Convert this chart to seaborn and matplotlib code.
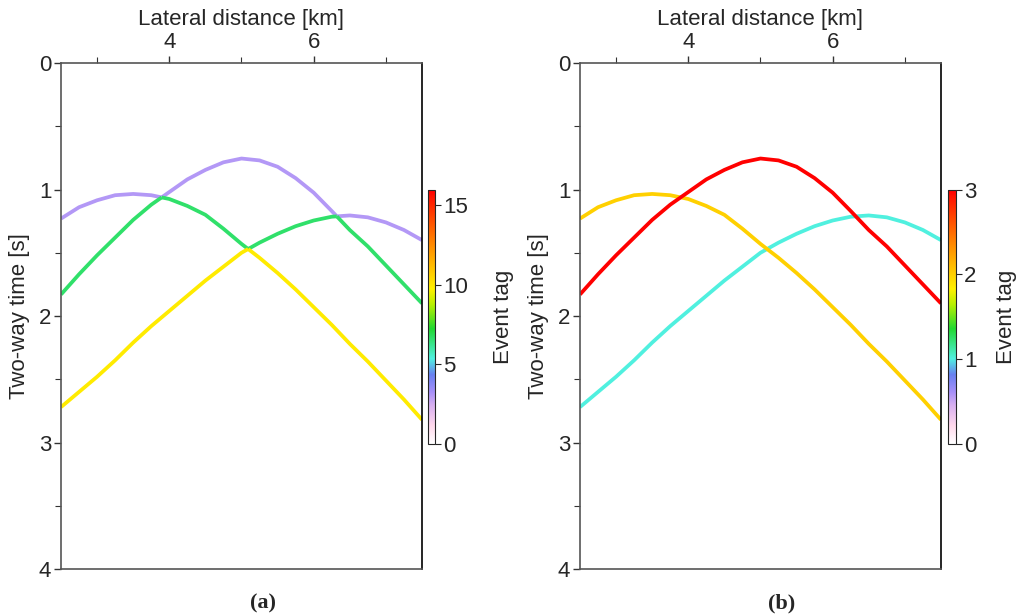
import numpy as np
import pandas as pd
import matplotlib
matplotlib.use("Agg")
import matplotlib.pyplot as plt
import seaborn as sns
from matplotlib.colors import LinearSegmentedColormap, Normalize
from matplotlib.cm import ScalarMappable

# ---------------- data ----------------
distance_km = [2.50, 2.75, 3.00, 3.25, 3.50, 3.75, 4.00, 4.25, 4.50, 4.75, 5.00,
               5.25, 5.50, 5.75, 6.00, 6.25, 6.50, 6.75, 7.00, 7.25, 7.50]
# event tag 1 (cyan), apex near 6.5 km
event1_time = [2.72, 2.60, 2.48, 2.35, 2.21, 2.08, 1.96, 1.84, 1.72, 1.61, 1.50,
               1.42, 1.35, 1.29, 1.245, 1.215, 1.205, 1.22, 1.26, 1.32, 1.40]
# event tag 2 (yellow), apex near 3.4 km
event2_time = [1.23, 1.14, 1.085, 1.045, 1.035, 1.045, 1.075, 1.13, 1.20, 1.31, 1.43,
               1.54, 1.66, 1.79, 1.93, 2.07, 2.22, 2.36, 2.51, 2.66, 2.82]
# event tag 3 (red), apex near 5.0 km
event3_time = [1.83, 1.67, 1.52, 1.38, 1.24, 1.12, 1.02, 0.92, 0.845, 0.785, 0.755,
               0.77, 0.82, 0.91, 1.025, 1.17, 1.32, 1.45, 1.60, 1.75, 1.90]
event_tags = [1, 2, 3]
# panel (a): tag by arrival order (first, second, third arrival)
arrival_tags = [3.0, 6.6, 9.9]

tag_max_a = 16
tag_max_b = 3
cbar_ticks_a = [0, 5, 10, 15]
cbar_ticks_b = [0, 1, 2, 3]
x_major = [4, 6]
x_minor = [3, 5, 7]
y_major = [0, 1, 2, 3, 4]
y_minor = [0.5, 1.5, 2.5, 3.5]
captions = ["(a)", "(b)"]

# ---------------- style ----------------
sns.set_theme(style="ticks")
plt.rcParams["font.family"] = ["Liberation Sans", "DejaVu Sans"]

cmap = LinearSegmentedColormap.from_list("event_rainbow", [
    (0.00, "#ffffff"), (0.07, "#ffd8ec"), (0.15, "#d8b0f0"), (0.20, "#a890f8"),
    (0.27, "#6880f0"), (0.333, "#50f0e0"), (0.45, "#20d830"), (0.55, "#b8f000"),
    (0.61, "#fff000"), (0.667, "#ffd000"), (0.80, "#ff8000"), (1.00, "#ff0000")])

x = np.asarray(distance_km)
T = np.vstack([event1_time, event2_time, event3_time])


def build_pieces(values_for_piece):
    """Split every event line at crossings; values_for_piece(event, rank)."""
    rows = []
    pid = 0
    n = len(x)
    for e in range(T.shape[0]):
        bx = list(x)
        for j in range(n - 1):
            for o in range(T.shape[0]):
                if o == e:
                    continue
                d0 = T[e, j] - T[o, j]
                d1 = T[e, j + 1] - T[o, j + 1]
                if d0 * d1 < 0:
                    bx.append(x[j] + (x[j + 1] - x[j]) * d0 / (d0 - d1))
        bx = np.array(sorted(bx))
        bt = np.interp(bx, x, T[e])
        ranks = []
        for k in range(len(bx) - 1):
            xm = 0.5 * (bx[k] + bx[k + 1])
            tm = [np.interp(xm, x, T[o]) for o in range(T.shape[0])]
            ranks.append(sum(1 for o in range(T.shape[0]) if o != e and tm[o] < tm[e]))
        start = 0
        for k in range(1, len(ranks) + 1):
            if k == len(ranks) or ranks[k] != ranks[start]:
                val = values_for_piece(e, ranks[start])
                for m in range(start, k + 1):
                    rows.append(dict(x=bx[m], t=bt[m], piece=pid, tag=val))
                pid += 1
                start = k
    return pd.DataFrame(rows)


df_a = build_pieces(lambda e, r: arrival_tags[r])
df_b = pd.DataFrame([dict(x=xi, t=ti, piece=e, tag=event_tags[e])
                     for e in range(T.shape[0]) for xi, ti in zip(x, T[e])])

fig = plt.figure(figsize=(10.22, 6.16), dpi=100)
ax_a = fig.add_axes([0.0597, 0.0763, 0.3532, 0.8214])
ax_b = fig.add_axes([0.5675, 0.0763, 0.3532, 0.8214])

panels = [(ax_a, df_a, tag_max_a, [0.4188, 0.2800, 0.0070, 0.4123], cbar_ticks_a, captions[0], 18, 0.2573),
          (ax_b, df_b, tag_max_b, [0.9276, 0.2800, 0.0078, 0.4123], cbar_ticks_b, captions[1], 14, 0.7652)]

for ax, df, vmax, crect, cticks, cap, lpad, capx in panels:
    norm = Normalize(0, vmax)
    sns.lineplot(data=df, x="x", y="t", units="piece", estimator=None, hue="tag",
                 palette=cmap, hue_norm=norm, sort=False, legend=False,
                 linewidth=2.7, solid_capstyle="butt", ax=ax)
    ax.set_xlim(2.5, 7.5)
    ax.set_ylim(4, 0)
    ax.xaxis.tick_top()
    ax.xaxis.set_label_position("top")
    ax.set_xticks(x_major)
    ax.set_xticks(x_minor, minor=True)
    ax.set_yticks(y_major)
    ax.set_yticks(y_minor, minor=True)
    ax.set_xticklabels([str(v) for v in x_major], fontsize=16)
    ax.set_yticklabels([str(v) for v in y_major], fontsize=16)
    ax.tick_params(which="major", direction="out", length=5, width=1, color="#333333", pad=2)
    ax.tick_params(which="minor", direction="out", length=4, width=0.8, color="#333333")
    ax.set_xlabel("Lateral distance [km]", fontsize=16, labelpad=5)
    ax.set_ylabel("Two-way time [s]", fontsize=16, labelpad=6)
    for s in ["left", "top", "bottom"]:
        ax.spines[s].set_color("#555555")
        ax.spines[s].set_linewidth(1.2)
    ax.spines["right"].set_color("black")
    ax.spines["right"].set_linewidth(1.2)
    ax.grid(False)

    cax = fig.add_axes(crect)
    cb = fig.colorbar(ScalarMappable(norm=norm, cmap=cmap), cax=cax)
    cb.set_ticks(cticks)
    cb.ax.tick_params(labelsize=16, length=4, width=0.8, pad=2)
    cb.outline.set_linewidth(0.8)
    cb.set_label("Event tag", fontsize=16, labelpad=lpad)

    fig.text(capx, 0.021, cap, ha="center", va="center",
             fontsize=16, fontweight="bold", family=["Liberation Serif", "DejaVu Serif"])

fig.savefig("out.png", dpi=100, facecolor="white")
